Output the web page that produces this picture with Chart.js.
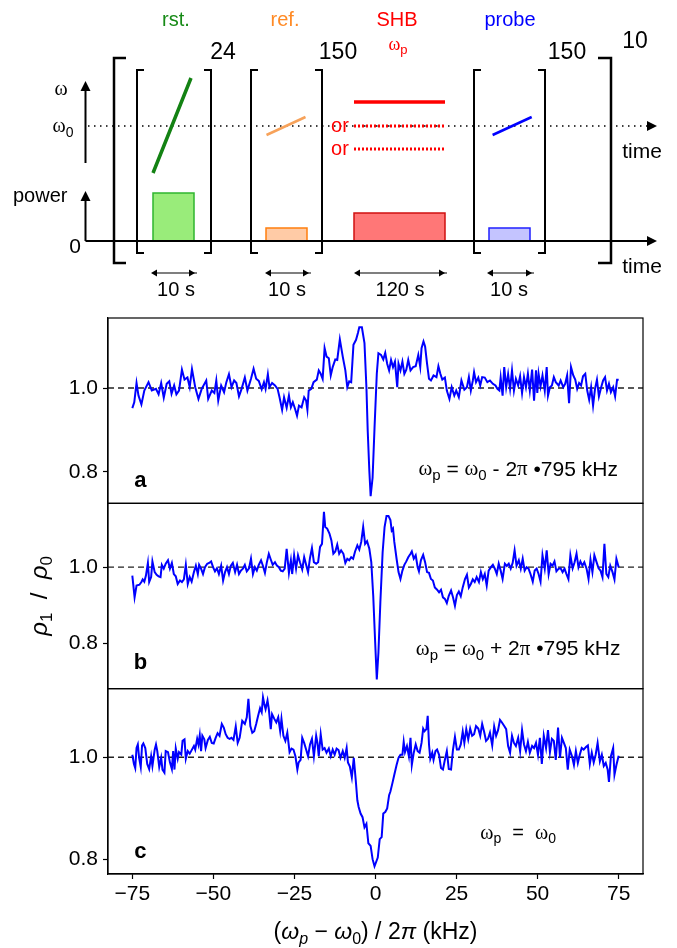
<!DOCTYPE html>
<html>
<head>
<meta charset="utf-8">
<script src="https://cdn.jsdelivr.net/npm/chart.js@4.4.1/dist/chart.umd.min.js"></script>
<style>
  body { margin: 0; background: #fff; }
  #figure { position: relative; width: 677px; height: 948px; }
  #schemeBox { position: absolute; left: 0; top: 0; width: 677px; height: 310px; }
  #panelsBox { position: absolute; left: 0; top: 310px; width: 677px; height: 638px; }
</style>
</head>
<body>
<div id="figure">
  <div id="schemeBox"><canvas id="scheme"></canvas></div>
  <div id="panelsBox"><canvas id="panels"></canvas></div>
</div>
<script>
// ---------- DATA ----------

// panel a : wp = w0 - 2pi*795 kHz
const freqA = [-75.0,-74.4,-73.7,-73.1,-72.2,-71.3,-70.0,-69.0,-67.7,-66.9,-66.1,-65.3,-64.4,-63.6,-62.9,-62.1,-61.4,-60.6,-59.7,-58.9,
  -58.0,-57.3,-56.6,-55.6,-54.6,-53.6,-52.2,-51.6,-50.5,-49.7,-49.1,-48.5,-47.6,-46.7,-46.0,-45.2,-44.4,-43.6,-42.9,-42.1,
  -41.3,-40.3,-39.5,-38.4,-37.6,-36.8,-36.0,-35.1,-34.4,-33.9,-33.2,-32.7,-31.9,-31.0,-30.2,-29.6,-28.8,-28.2,-27.4,-26.7,
  -26.1,-25.5,-24.8,-24.2,-23.6,-22.8,-22.0,-21.4,-21.0,-20.6,-19.8,-19.1,-18.1,-17.5,-16.9,-16.3,-15.7,-15.1,-14.4,-13.8,
  -13.2,-12.4,-11.8,-11.0,-10.1,-9.3,-8.7,-8.1,-7.5,-6.8,-6.0,-5.4,-5.0,-4.2,-3.4,-2.8,-2.4,-1.9,-1.5,-0.9,
  -0.3,0.4,0.9,1.7,2.4,3.0,3.6,4.2,4.8,5.4,6.0,6.7,7.1,7.7,8.3,8.9,9.5,10.1,10.8,11.6,
  12.4,13.2,13.8,14.2,14.8,15.3,15.9,16.5,17.1,17.9,18.8,19.4,20.0,20.6,21.4,22.0,22.8,23.5,24.3,24.9,
  25.7,26.5,27.4,28.2,28.8,29.4,30.0,30.4,31.0,31.7,32.3,32.9,33.7,34.5,35.3,36.2,37.0,37.6,38.2,38.6,
  39.2,39.7,40.3,40.9,41.5,42.1,42.7,43.3,44.0,44.6,45.2,45.8,46.4,47.0,47.6,48.3,48.9,49.5,49.9,50.3,
  50.9,51.5,52.2,52.8,53.2,53.8,54.4,55.0,55.6,56.5,57.1,57.9,58.5,59.1,59.7,60.3,61.0,61.6,62.2,62.8,
  63.4,64.0,64.7,65.3,65.9,66.5,67.1,67.7,68.3,68.9,69.6,70.2,70.8,71.4,72.0,72.6,73.3,73.9,74.5,75.0];
const ratioA = [0.952,0.966,1.012,0.982,0.961,0.994,1.014,0.994,0.998,0.985,1.012,0.977,1.010,1.016,0.986,1.006,0.985,0.994,1.044,1.020,
  1.025,1.002,1.045,1.002,0.974,0.998,1.018,0.974,0.994,0.988,1.018,0.970,1.006,0.990,1.014,1.033,1.002,1.018,1.012,0.980,
  0.998,1.025,0.994,1.022,1.046,1.022,1.017,0.997,1.014,0.998,1.033,1.002,1.012,1.006,0.998,0.978,0.948,0.978,0.953,0.982,
  0.954,0.966,0.950,0.934,0.958,0.954,0.978,0.970,0.948,0.994,0.998,1.014,1.020,1.042,1.034,1.022,1.095,1.075,1.071,1.030,
  1.050,1.068,1.067,1.116,1.075,1.042,1.002,1.016,1.014,1.103,1.115,1.132,1.145,1.145,1.107,1.002,0.898,0.802,0.742,0.786,
  0.905,1.034,1.083,1.079,1.068,1.084,1.058,1.042,1.067,1.050,1.063,1.002,1.058,1.042,1.063,1.034,1.044,1.067,1.042,1.050,
  1.052,1.079,1.050,1.095,1.111,1.099,1.058,1.022,1.018,1.030,1.026,1.052,1.034,1.020,1.025,0.994,0.974,1.002,0.982,0.994,
  0.978,1.018,0.996,1.002,1.026,0.994,1.017,1.038,1.014,1.025,1.006,1.026,1.025,1.014,1.018,1.010,1.006,0.998,0.994,1.025,
  0.982,1.050,1.002,1.033,0.998,1.042,0.994,1.022,1.006,1.028,0.988,1.026,1.002,1.034,0.994,1.044,0.970,1.042,0.988,1.034,
  1.004,1.030,0.994,1.050,0.982,1.002,1.006,1.026,1.014,1.006,1.018,1.002,1.010,1.030,0.964,1.050,1.030,1.020,0.998,1.012,
  1.006,1.028,1.034,0.994,0.972,1.002,0.958,0.998,1.020,0.980,1.002,1.018,1.026,0.994,1.010,0.990,1.002,0.980,1.020,1.020];

// panel b : wp = w0 + 2pi*795 kHz
const freqB = [-75.0,-74.3,-73.7,-72.8,-72.2,-71.8,-71.3,-70.8,-70.2,-69.8,-69.2,-68.8,-68.1,-67.5,-66.9,-66.3,-65.9,-65.3,-64.7,-64.0,
  -63.4,-62.8,-62.2,-61.6,-61.0,-60.3,-59.7,-59.1,-58.5,-57.9,-57.3,-56.7,-56.0,-55.4,-54.8,-54.4,-53.8,-53.2,-52.6,-51.9,
  -51.3,-50.7,-50.1,-49.5,-48.9,-48.3,-47.6,-47.0,-46.4,-45.8,-45.2,-44.6,-44.0,-43.3,-42.7,-42.1,-41.5,-40.9,-40.3,-39.7,
  -39.0,-38.4,-37.8,-37.2,-36.6,-36.0,-35.3,-34.7,-34.1,-33.5,-32.9,-32.3,-31.7,-31.0,-30.4,-29.8,-29.2,-28.6,-28.0,-27.4,
  -26.7,-26.1,-25.7,-25.1,-24.5,-23.9,-23.3,-22.6,-22.0,-21.4,-20.8,-20.2,-19.6,-19.0,-18.3,-17.7,-17.1,-16.5,-15.9,-15.5,
  -14.9,-14.2,-13.6,-13.0,-12.4,-11.8,-11.2,-10.6,-9.9,-9.3,-8.7,-8.1,-7.5,-6.9,-6.3,-5.6,-5.0,-4.4,-3.8,-3.2,
  -2.6,-1.9,-1.3,-0.7,-0.1,0.4,0.9,1.5,2.2,2.8,3.4,4.0,4.6,5.0,5.4,5.8,6.5,7.1,7.7,8.3,
  8.9,9.5,10.1,10.8,11.2,11.8,12.4,13.0,13.4,14.0,14.7,15.3,15.9,16.5,17.1,17.7,18.3,19.0,19.6,20.2,
  20.8,21.4,22.0,22.6,23.3,23.9,24.5,25.1,25.7,26.3,26.9,27.6,28.2,28.8,29.4,30.0,30.6,31.2,31.9,32.5,
  33.1,33.7,34.3,34.9,35.6,36.2,36.8,37.4,38.0,38.6,39.2,39.9,40.5,41.1,41.7,42.3,42.9,43.5,44.2,44.8,
  45.4,46.0,46.6,47.2,47.8,48.5,49.1,49.7,50.3,50.9,51.5,52.2,52.8,53.4,54.0,54.6,55.2,55.8,56.5,57.1,
  57.7,58.3,58.9,59.5,60.1,60.8,61.4,62.0,62.6,63.2,63.8,64.4,65.1,65.7,66.3,66.9,67.5,68.1,68.8,69.4,
  70.0,70.6,71.2,71.8,72.4,73.1,73.7,74.3,75.0];
const ratioB = [0.978,0.921,0.952,0.954,0.961,0.968,0.962,0.978,1.011,0.961,0.974,1.015,0.987,0.980,0.976,0.974,1.006,0.996,1.009,1.018,
  0.996,1.011,0.982,0.976,0.956,0.965,0.961,0.968,1.006,0.956,0.974,0.962,0.987,1.004,0.982,1.006,0.996,0.982,1.000,1.009,
  1.011,1.015,1.000,0.989,0.997,0.982,1.004,0.965,0.987,1.000,0.982,1.004,1.011,0.987,1.006,0.982,0.991,0.996,1.006,0.989,
  0.997,1.022,0.982,1.000,0.991,1.006,1.018,1.003,0.985,1.013,1.035,1.020,1.006,1.013,1.004,1.000,0.991,0.989,0.996,1.048,
  0.985,1.018,0.982,1.031,0.996,1.031,1.013,0.994,1.026,1.006,0.987,1.024,1.050,1.013,1.009,1.013,1.053,1.061,1.145,1.105,
  1.101,1.088,1.070,1.035,1.041,1.059,1.035,1.044,1.035,1.011,1.022,1.018,1.026,1.022,1.041,1.057,1.046,1.066,1.105,1.061,
  1.068,1.048,1.013,0.925,0.803,0.706,0.776,0.908,1.039,1.105,1.134,1.134,1.123,1.096,1.101,1.066,1.022,0.987,0.969,0.991,
  1.006,1.015,1.026,1.035,1.041,1.022,1.031,1.000,0.989,1.018,1.032,1.013,0.987,0.985,0.969,0.965,0.947,0.941,0.934,0.941,
  0.921,0.917,0.906,0.925,0.939,0.921,0.899,0.927,0.936,0.924,0.947,0.969,0.980,0.947,0.956,0.968,0.961,0.974,0.961,0.987,
  0.969,0.982,0.952,0.991,1.000,1.006,0.996,0.982,1.009,0.991,0.969,1.009,1.003,1.009,0.996,1.011,1.044,1.004,1.018,0.996,
  1.022,0.991,1.000,0.996,0.982,0.962,0.991,0.996,0.982,0.962,1.031,0.996,1.044,0.982,1.009,1.004,1.015,0.989,0.996,0.997,
  0.987,0.996,0.982,0.969,1.031,0.997,1.013,1.035,1.000,1.015,1.004,1.013,0.996,0.969,1.020,0.987,1.031,1.015,0.997,0.991,
  0.974,1.061,0.982,0.974,1.004,0.987,0.968,1.022,1.000];

// panel c : wp = w0
const freqC = [-75.0,-74.5,-74.1,-73.7,-73.3,-72.9,-72.4,-72.0,-71.6,-71.0,-70.4,-69.8,-69.2,-68.8,-68.1,-67.7,-67.3,-66.7,-66.1,-65.7,
  -65.1,-64.7,-64.0,-63.4,-62.8,-62.4,-62.0,-61.6,-61.0,-60.6,-59.9,-59.5,-58.9,-58.5,-57.9,-57.3,-56.7,-56.0,-55.6,-55.0,
  -54.6,-54.2,-53.8,-53.4,-52.8,-52.4,-51.7,-51.1,-50.5,-49.9,-49.3,-48.7,-48.1,-47.4,-46.8,-46.2,-45.6,-45.0,-44.4,-43.8,
  -43.1,-42.5,-41.9,-41.1,-40.3,-39.7,-39.2,-38.6,-38.0,-37.4,-36.8,-36.2,-35.6,-35.1,-34.7,-34.3,-33.9,-33.3,-32.9,-32.3,
  -31.9,-31.2,-30.6,-30.0,-29.4,-29.0,-28.4,-27.8,-27.2,-26.5,-25.9,-25.3,-24.7,-24.1,-23.7,-23.1,-22.6,-22.0,-21.4,-20.8,
  -20.2,-19.6,-19.0,-18.3,-17.9,-17.5,-16.9,-16.3,-15.7,-15.1,-14.4,-13.8,-13.2,-12.6,-12.0,-11.4,-10.8,-10.1,-9.5,-8.9,
  -8.5,-7.9,-7.3,-6.7,-6.1,-5.6,-5.2,-4.6,-4.0,-3.4,-2.8,-2.2,-1.5,-0.9,-0.3,0.7,1.3,1.9,2.4,3.0,
  3.6,4.2,4.6,5.2,5.8,6.5,7.1,7.7,8.3,8.7,9.1,9.7,10.3,10.8,11.2,11.8,12.4,13.0,13.6,14.2,
  14.7,15.1,15.7,16.1,16.5,16.9,17.5,17.9,18.5,19.0,19.6,20.2,20.8,21.4,22.0,22.6,23.3,23.9,24.5,25.1,
  25.7,26.3,26.9,27.4,28.0,28.6,29.2,29.8,30.4,31.0,31.7,32.3,32.9,33.5,34.1,34.7,35.3,36.0,36.6,37.2,
  37.8,38.4,39.0,39.7,40.3,40.9,41.5,42.1,42.7,43.3,44.0,44.6,45.2,45.8,46.4,47.0,47.6,48.3,48.9,49.5,
  50.1,50.7,51.3,51.9,52.6,53.2,53.8,54.4,55.0,55.6,56.3,56.9,57.5,58.1,58.7,59.3,59.9,60.6,61.2,61.8,
  62.4,63.0,63.6,64.2,64.9,65.5,66.1,66.7,67.3,67.9,68.5,69.2,69.8,70.4,71.0,71.6,72.0,72.6,73.3,73.7,
  74.3,75.0];
const ratioC = [1.005,0.987,0.979,1.018,1.025,0.999,0.981,1.023,1.027,1.018,0.987,0.977,1.002,0.983,1.015,1.025,1.012,0.981,0.999,0.976,
  0.970,1.012,1.010,0.990,0.977,1.012,0.976,1.017,0.997,1.010,1.005,1.032,1.035,0.997,1.012,1.007,1.014,1.022,1.015,1.036,
  1.025,1.043,1.012,1.042,1.035,1.018,1.034,1.040,1.028,1.027,1.038,1.047,1.042,1.065,1.058,1.045,1.038,1.036,1.038,1.034,
  1.060,1.028,1.038,1.071,1.065,1.078,1.114,1.061,1.048,1.051,1.065,1.081,1.096,1.088,1.117,1.104,1.094,1.111,1.094,1.055,
  1.084,1.075,1.068,1.078,1.051,1.075,1.042,1.032,1.048,1.010,1.017,1.015,1.002,0.976,0.990,0.995,1.038,1.028,1.015,1.002,
  1.025,1.036,1.002,1.042,1.028,1.002,1.045,1.015,1.018,1.009,1.017,1.002,1.015,1.005,1.017,1.014,0.999,1.012,0.999,1.018,
  0.990,0.982,0.961,0.999,0.956,0.916,0.903,0.890,0.883,0.863,0.870,0.832,0.827,0.801,0.787,0.804,0.840,0.844,0.890,0.893,
  0.900,0.926,0.933,0.949,0.966,0.985,0.999,1.005,1.005,1.030,1.010,1.022,1.002,1.038,0.985,1.009,1.025,1.012,1.009,1.028,
  1.056,1.051,1.055,1.081,1.025,0.997,1.009,0.995,1.012,1.015,1.005,0.979,0.976,0.995,1.012,0.977,0.976,1.015,1.040,1.015,
  1.015,1.025,1.050,1.028,1.055,1.035,1.056,1.042,1.045,1.061,1.056,1.042,1.065,1.050,1.032,1.036,1.048,1.023,1.060,1.042,
  1.053,1.073,1.068,1.061,1.055,1.022,1.009,1.042,1.028,1.022,1.038,1.012,1.053,1.025,1.012,1.030,1.009,1.022,1.018,1.028,
  1.005,1.038,0.987,1.042,1.018,1.053,1.010,1.036,1.032,0.995,1.058,0.999,1.038,1.028,1.018,0.976,1.015,1.002,0.985,1.012,
  0.989,1.005,1.018,1.015,1.020,1.023,0.987,1.009,0.990,1.005,1.028,0.992,1.005,0.983,0.989,0.976,0.952,1.002,1.018,0.966,
  0.985,1.003];

// axis ticks
const xTickValues = [-75, -50, -25, 0, 25, 50, 75];
const yTickValues = [0.8, 1.0];

// pulse sequence labels
const stageNames = ['rst.', 'ref.', 'SHB', 'probe'];
const stageDurations = ['10 s', '10 s', '120 s', '10 s'];
const loopCounts = ['24', '150', '150', '10'];

// ---------- DRAWING ----------
const SANS = "'Liberation Sans', Arial, sans-serif";
const SERIF = "'Liberation Serif', 'Times New Roman', serif";
Chart.defaults.font.family = SANS;
Chart.defaults.color = '#000';

// text made of pieces: [text, style, subscript]
function drawRich(ctx, parts, x, y, size, align) {
  const fonts = {
    r: s => s + 'px ' + SANS,
    s: s => s + 'px ' + SERIF,
    i: s => 'italic ' + s + 'px ' + SANS,
    b: s => 'bold ' + s + 'px ' + SANS
  };
  let total = 0;
  const items = parts.map(([t, st = 'r', sub = false]) => {
    const font = fonts[st](sub ? Math.round(size * 0.7) : size);
    ctx.font = font;
    const w = ctx.measureText(t).width;
    total += w;
    return { t, font, w, dy: sub ? size * 0.3 : 0 };
  });
  let cx = align === 'center' ? x - total / 2 : align === 'right' ? x - total : x;
  ctx.textAlign = 'left';
  ctx.textBaseline = 'middle';
  items.forEach(it => {
    ctx.font = it.font;
    ctx.fillText(it.t, cx, y + it.dy);
    cx += it.w;
  });
}

function arrowHead(ctx, x, y, dir, len, half) {
  const d = { right: [1, 0], left: [-1, 0], up: [0, -1] }[dir];
  ctx.beginPath();
  ctx.moveTo(x, y);
  ctx.lineTo(x - d[0] * len - d[1] * half, y - d[1] * len - d[0] * half);
  ctx.lineTo(x - d[0] * len + d[1] * half, y - d[1] * len + d[0] * half);
  ctx.closePath();
  ctx.fill();
}

// ---- schematic (diagram units, baseline of the time axis at 0) ----
function seg(pts, color, width, dash) {
  return {
    data: pts.map(p => ({ x: p[0], y: p[1] })),
    showLine: true, borderColor: color, borderWidth: width,
    borderDash: dash || [], pointRadius: 0, fill: false
  };
}
function bar(x0, x1, h, fillColor, edge) {
  return {
    data: [{ x: x0, y: 0 }, { x: x0, y: h }, { x: x1, y: h }, { x: x1, y: 0 }],
    showLine: true, borderColor: edge, borderWidth: 1.5,
    backgroundColor: fillColor, fill: 'origin', pointRadius: 0
  };
}
function bracket(x, dir, top, bottom, serif, width) {
  return seg([[x + dir * serif, top], [x, top], [x, bottom], [x + dir * serif, bottom]], '#000', width);
}

const schemeSets = [
  seg([[85.5, 0], [648, 0]], '#000', 2),
  seg([[85.5, 78], [85.5, 152]], '#000', 2),
  seg([[85.5, 0], [85.5, 43]], '#000', 2),
  seg([[153, 68], [191, 163]], '#138213', 3.5),
  seg([[266.5, 106], [305.5, 124]], '#f7a25a', 2.5),
  seg([[492.6, 106], [531.7, 124]], '#0000ff', 2.5),
  seg([[354, 139], [445, 139]], '#ff0000', 3.5),
  seg([[354, 115], [445, 115]], '#ff0000', 3, [2, 2]),
  seg([[354, 92], [445, 92]], '#ff0000', 3, [2, 2]),
  seg([[88, 115], [648, 115]], '#000', 1.5, [1.5, 4.5]),
  bracket(114, 1, 183, -22, 12, 2.5),
  bracket(611, -1, 183, -22, 13, 2.5),
  bracket(137, 1, 171, -12, 7, 2), bracket(211, -1, 171, -12, 7, 2),
  bracket(251, 1, 171, -12, 7, 2), bracket(322, -1, 171, -12, 7, 2),
  bracket(474, 1, 171, -12, 7, 2), bracket(545, -1, 171, -12, 7, 2),
  seg([[153, -32], [197, -32]], '#000', 1.2),
  seg([[267, -32], [311, -32]], '#000', 1.2),
  seg([[356, -32], [447, -32]], '#000', 1.2),
  seg([[489, -32], [534, -32]], '#000', 1.2),
  bar(153, 194, 48, '#99ec7a', '#2fb52f'),
  bar(266, 307, 13, '#ffcba6', '#ff7f0e'),
  bar(354, 445, 28, '#ff7777', '#d01010'),
  bar(489, 530, 13, '#c4c4ff', '#2020ff')
];

const schemeDecor = {
  id: 'schemeDecor',
  afterDraw(chart) {
    const { ctx } = chart;
    const X = v => chart.scales.x.getPixelForValue(v);
    const Y = v => chart.scales.y.getPixelForValue(v);
    ctx.save();
    ctx.fillStyle = '#000';
    arrowHead(ctx, X(657), Y(0), 'right', 10, 5);
    arrowHead(ctx, X(657), Y(115), 'right', 10, 5);
    arrowHead(ctx, X(85.5), Y(160), 'up', 10, 5);
    arrowHead(ctx, X(85.5), Y(50), 'up', 10, 5);
    [[151, 195], [265, 309], [354, 445], [487, 532]].forEach(([a, b]) => {
      arrowHead(ctx, X(a), Y(-32), 'left', 6, 3.5);
      arrowHead(ctx, X(b), Y(-32), 'right', 6, 3.5);
    });
    const stageX = [176, 285, 397, 510];
    const stageCol = ['#168a16', '#ff8a25', '#ff0000', '#0000ff'];
    stageNames.forEach((n, i) => {
      ctx.fillStyle = stageCol[i];
      drawRich(ctx, [[n]], X(stageX[i]), Y(221), 20, 'center');
    });
    ctx.fillStyle = '#ff0000';
    drawRich(ctx, [['ω', 's'], ['p', 'r', true]], X(398), Y(196), 18, 'center');
    drawRich(ctx, [['or']], X(340), Y(115), 20, 'center');
    drawRich(ctx, [['or']], X(340), Y(92), 20, 'center');
    ctx.fillStyle = '#000';
    const loopX = [223, 338, 567, 635];
    const loopY = [188, 188, 188, 199];
    loopCounts.forEach((n, i) => drawRich(ctx, [[n]], X(loopX[i]), Y(loopY[i]), 23, 'center'));
    const durX = [176, 287, 400, 509];
    stageDurations.forEach((d, i) => drawRich(ctx, [[d]], X(durX[i]), Y(-49), 20, 'center'));
    drawRich(ctx, [['ω', 's']], X(61), Y(151), 20, 'center');
    drawRich(ctx, [['ω', 's'], ['0', 'r', true]], X(63), Y(114), 20, 'center');
    drawRich(ctx, [['power']], X(13), Y(45), 20, 'left');
    drawRich(ctx, [['0']], X(75), Y(-6), 21, 'center');
    drawRich(ctx, [['time']], X(642), Y(89), 21, 'center');
    drawRich(ctx, [['time']], X(642), Y(-26), 21, 'center');
    ctx.restore();
  }
};

new Chart(document.getElementById('scheme'), {
  type: 'scatter',
  data: { datasets: schemeSets },
  options: {
    responsive: true, maintainAspectRatio: false, animation: false, devicePixelRatio: 1,
    layout: { padding: 0 },
    plugins: { legend: { display: false }, tooltip: { enabled: false } },
    scales: {
      x: { type: 'linear', min: 0, max: 677, display: false },
      y: { type: 'linear', min: -69, max: 241, display: false }
    }
  },
  plugins: [schemeDecor]
});

// ---- three stacked panels ----
const panels = [
  { id: 'ya', freq: freqA, ratio: ratioA, min: 0.725, max: 1.167, letter: 'a', letterAt: [-72.5, 0.779],
    noteAt: [44, 0.805], noteSize: 21,
    note: [['ω', 's'], ['p', 'r', true], [' = '], ['ω', 's'], ['0', 'r', true], [' - 2'], ['π', 's'], [' •795 kHz']] },
  { id: 'yb', freq: freqB, ratio: ratioB, min: 0.682, max: 1.167, letter: 'b', letterAt: [-72.5, 0.750],
    noteAt: [44, 0.784], noteSize: 21,
    note: [['ω', 's'], ['p', 'r', true], [' = '], ['ω', 's'], ['0', 'r', true], [' + 2'], ['π', 's'], [' •795 kHz']] },
  { id: 'yc', freq: freqC, ratio: ratioC, min: 0.772, max: 1.134, letter: 'c', letterAt: [-72.5, 0.816],
    noteAt: [44, 0.851], noteSize: 20,
    note: [['ω', 's'], ['p', 'r', true], ['  =  '], ['ω', 's'], ['0', 'r', true]] }
];

const panelSets = [];
panels.forEach(p => {
  panelSets.push({
    data: p.freq.map((f, i) => ({ x: f, y: p.ratio[i] })),
    yAxisID: p.id, showLine: true, borderColor: '#0000ff', borderWidth: 2,
    pointRadius: 0, fill: false
  });
  panelSets.push({
    data: [{ x: -82.5, y: 1 }, { x: 82.5, y: 1 }],
    yAxisID: p.id, showLine: true, borderColor: '#222', borderWidth: 1.4,
    borderDash: [6, 4], pointRadius: 0, fill: false
  });
});

function yScale(p) {
  return {
    type: 'linear', position: 'left', stack: 'panels', stackWeight: 1,
    min: p.min, max: p.max,
    afterBuildTicks: s => { s.ticks = yTickValues.map(v => ({ value: v })); },
    afterFit: s => { s.width = 108; s.paddingTop = 0; s.paddingBottom = 0; },
    ticks: { font: { size: 21 }, padding: 5, autoSkip: false, callback: v => v.toFixed(1) },
    grid: { drawOnChartArea: false, drawTicks: true, tickLength: 5, color: '#000', tickWidth: 1.2 },
    border: { display: true, color: '#000', width: 1.2 }
  };
}

const panelDecor = {
  id: 'panelDecor',
  afterDraw(chart) {
    const { ctx, chartArea: ca, scales } = chart;
    ctx.save();
    ctx.strokeStyle = '#000';
    ctx.lineWidth = 1.2;
    ctx.fillStyle = '#000';
    panels.forEach(p => {
      const s = scales[p.id];
      ctx.strokeRect(ca.left, s.top, ca.right - ca.left, s.bottom - s.top);
      drawRich(ctx, [[p.letter, 'b']], scales.x.getPixelForValue(p.letterAt[0]), s.getPixelForValue(p.letterAt[1]), 22, 'center');
      drawRich(ctx, p.note, scales.x.getPixelForValue(p.noteAt[0]), s.getPixelForValue(p.noteAt[1]), p.noteSize, 'center');
    });
    // axis titles
    drawRich(ctx, [['('], ['ω', 'i'], ['p', 'i', true], [' − '], ['ω', 'i'], ['0', 'r', true], [') / 2'], ['π', 'i'], [' (kHz)']],
      (ca.left + ca.right) / 2, ca.bottom + 59, 23, 'center');
    ctx.translate(ca.left - 68, (ca.top + ca.bottom) / 2);
    ctx.rotate(-Math.PI / 2);
    drawRich(ctx, [['ρ', 'i'], ['1', 'r', true], ['  /  '], ['ρ', 'i'], ['0', 'r', true]], 0, 0, 24, 'center');
    ctx.restore();
  }
};

new Chart(document.getElementById('panels'), {
  type: 'scatter',
  data: { datasets: panelSets },
  options: {
    responsive: true, maintainAspectRatio: false, animation: false, devicePixelRatio: 1,
    layout: { padding: { top: 8, right: 34, left: 0, bottom: 0 } },
    plugins: { legend: { display: false }, tooltip: { enabled: false } },
    scales: {
      x: {
        type: 'linear', position: 'bottom', min: -82.5, max: 82.5,
        afterBuildTicks: s => { s.ticks = xTickValues.map(v => ({ value: v })); },
        afterFit: s => { s.height = 74; s.paddingLeft = 0; s.paddingRight = 0; },
        ticks: { font: { size: 21 }, padding: 3, autoSkip: false, maxRotation: 0,
          callback: v => String(v).replace('-', '\u2212') },
        grid: { drawOnChartArea: false, drawTicks: true, tickLength: 5, color: '#000', tickWidth: 1.2 },
        border: { display: true, color: '#000', width: 1.2 }
      },
      yc: yScale(panels[2]),
      yb: yScale(panels[1]),
      ya: yScale(panels[0])
    }
  },
  plugins: [panelDecor]
});
</script>
</body>
</html>
